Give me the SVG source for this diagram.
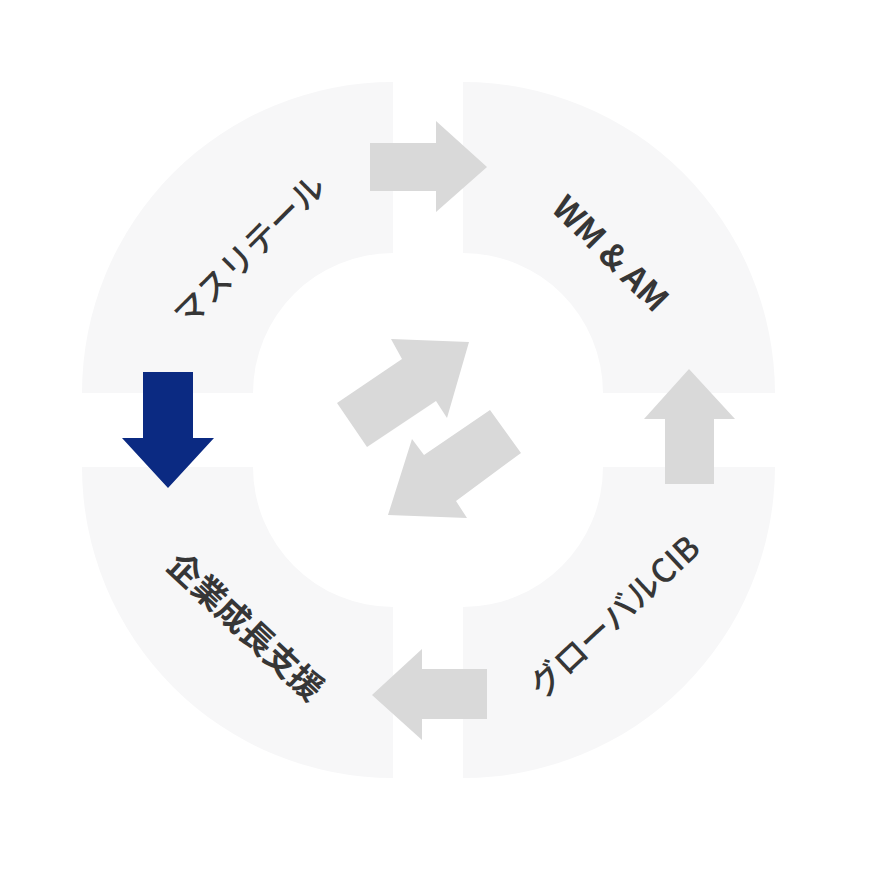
<svg xmlns="http://www.w3.org/2000/svg" width="870" height="870" viewBox="0 0 870 870">
<style>
.seg{fill:#f7f7f8}
.garr{fill:#d9d9d9}
.lbl{fill:#363636;font-family:"Noto Sans CJK JP","Noto Sans",sans-serif;font-size:33px;font-weight:700;text-anchor:middle;dominant-baseline:central}
.med{font-weight:500}
</style>
<rect width="870" height="870" fill="#ffffff"/>
<g id="mass-retail">
<path class="seg" d="M82,393 A311,311 0 0 1 393,82 L393,253 A140,140 0 0 0 253,393 Z"/>
<text class="lbl med" transform="translate(248,249) rotate(-45)">マスリテール</text>
</g>
<g id="wm-am">
<path class="seg" d="M463,82 A312,312 0 0 1 775,393 L603,393 A140,140 0 0 0 463,253 Z"/>
<text class="lbl" transform="translate(612,252) rotate(45)">WM &amp; AM</text>
</g>
<g id="corporate-growth">
<path class="seg" d="M393,778 A311,311 0 0 1 82,467 L253,467 A140,140 0 0 0 393,607 Z"/>
<text class="lbl" transform="translate(247,625) rotate(43)">企業成長支援</text>
</g>
<g id="global-cib">
<path class="seg" d="M775,467 A312,312 0 0 1 463,778 L463,607 A140,140 0 0 0 603,467 Z"/>
<text class="lbl med" transform="translate(613,615) rotate(-43)">グローバルCIB</text>
</g>
<g id="connectors">
<polygon class="garr" points="370,143 436,143 436,121 487,167 436,212 436,191 370,191"/>
<polygon class="garr" points="665,484 665,419 644,419 689,369 735,419 714,419 714,484"/>
<polygon class="garr" points="487,669 422,669 422,649 372,695 422,740 422,719 487,719"/>
<polygon fill="#0b2a82" points="143,372 193,372 193,438 214,438 168,488 122,438 143,438"/>
<polygon class="garr" points="337,403 402,359 391,339 469,342 447,418 436,401 367,447"/>
<polygon class="garr" points="490,410 424,455 412,439 388,515 467,518 456,501 521,453"/>
</g>
</svg>
